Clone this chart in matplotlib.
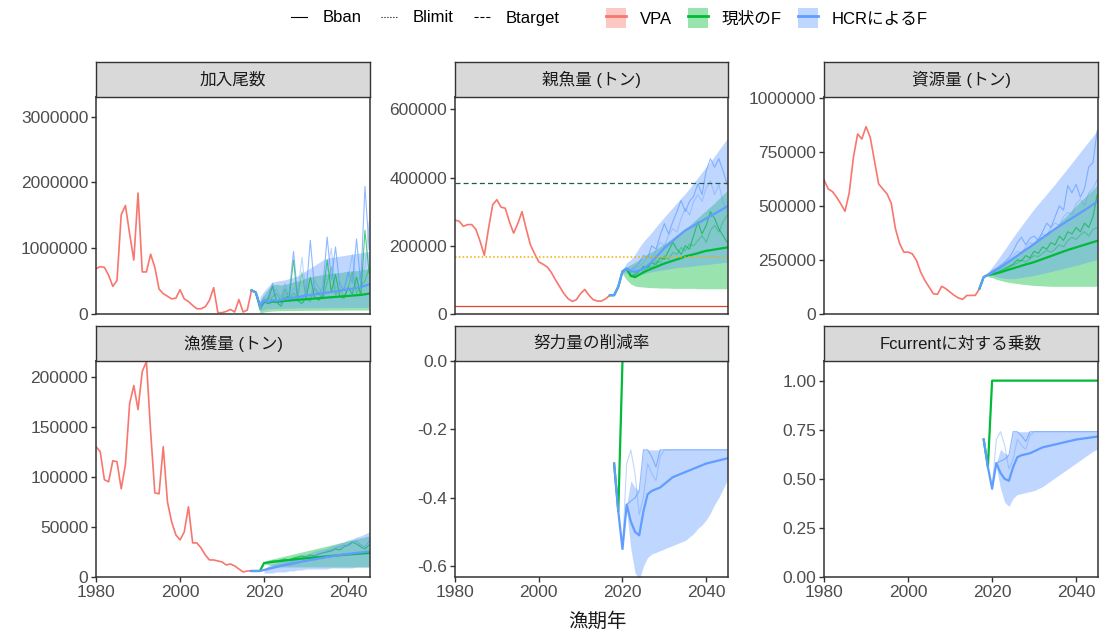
import matplotlib
matplotlib.use("Agg")
import matplotlib.pyplot as plt
from matplotlib.lines import Line2D
from matplotlib.patches import Patch
from matplotlib.ticker import FormatStrFormatter

plt.rcParams['font.family'] = ['Liberation Sans', 'Noto Sans CJK JP']

VPA_COL = '#F8766D'
CUR_COL = '#00BA38'
HCR_COL = '#619CFF'

# ---- years ----
vpa_years = list(range(1980, 2018))
proj_years = list(range(2017, 2046))
f_years = list(range(2018, 2046))

# ---- 加入尾数 ----
rec_vpa = [690e3, 720e3, 710e3, 590e3, 420e3, 510e3, 1510e3, 1650e3, 1220e3, 820e3,
           1840e3, 640e3, 640e3, 910e3, 710e3, 380e3, 310e3, 270e3, 230e3, 240e3,
           370e3, 230e3, 190e3, 130e3, 80e3, 80e3, 110e3, 210e3, 400e3, 20e3,
           20e3, 40e3, 70e3, 30e3, 220e3, 30e3, 60e3, 360e3]
rec_hcr = [360e3, 330e3, 130e3, 200e3, 180e3, 210e3, 200e3, 215e3, 225e3, 235e3,
           250e3, 255e3, 270e3, 280e3, 290e3, 300e3, 305e3, 315e3, 325e3, 335e3,
           345e3, 355e3, 365e3, 375e3, 385e3, 395e3, 410e3, 430e3, 450e3]
rec_cur = [360e3, 330e3, 130e3, 190e3, 170e3, 190e3, 185e3, 195e3, 200e3, 205e3,
           210e3, 215e3, 220e3, 225e3, 230e3, 235e3, 240e3, 245e3, 250e3, 255e3,
           260e3, 265e3, 270e3, 275e3, 280e3, 285e3, 290e3, 300e3, 310e3]
rec_band_years = list(range(2019, 2046))
rec_hcr_hi = [260e3, 350e3, 420e3, 480e3, 500e3, 510e3, 520e3, 540e3, 560e3, 580e3,
              620e3, 660e3, 700e3, 740e3, 780e3, 820e3, 850e3, 860e3, 870e3, 880e3,
              890e3, 900e3, 910e3, 920e3, 930e3, 940e3, 950e3]
rec_hcr_lo = [40e3, 70e3, 80e3, 80e3, 85e3, 85e3, 90e3, 90e3, 90e3, 92e3,
              92e3, 94e3, 94e3, 95e3, 95e3, 96e3, 96e3, 97e3, 97e3, 98e3,
              98e3, 99e3, 99e3, 100e3, 100e3, 100e3, 100e3]
rec_cur_hi = [200e3, 300e3, 380e3, 450e3, 450e3, 440e3, 450e3, 470e3, 490e3, 500e3,
              520e3, 550e3, 560e3, 580e3, 590e3, 600e3, 610e3, 620e3, 625e3, 630e3,
              640e3, 650e3, 655e3, 660e3, 670e3, 680e3, 690e3]
rec_cur_lo = [5e3, 30e3, 40e3, 45e3, 48e3, 50e3, 50e3, 52e3, 52e3, 54e3,
              54e3, 55e3, 55e3, 56e3, 56e3, 57e3, 57e3, 58e3, 58e3, 58e3,
              59e3, 59e3, 60e3, 60e3, 60e3, 60e3, 60e3]
rec_sim_years = list(range(2018, 2046))
rec_hcr_sims = [
    [330e3, 80e3, 180e3, 260e3, 470e3, 210e3, 160e3, 300e3, 330e3, 950e3,
     260e3, 220e3, 330e3, 1120e3, 380e3, 300e3, 420e3, 1170e3, 520e3, 1020e3,
     420e3, 380e3, 640e3, 470e3, 1140e3, 460e3, 1940e3, 980e3],
    [330e3, 150e3, 260e3, 200e3, 300e3, 380e3, 250e3, 470e3, 230e3, 400e3,
     320e3, 860e3, 300e3, 250e3, 520e3, 400e3, 300e3, 650e3, 1000e3, 380e3,
     500e3, 350e3, 550e3, 900e3, 420e3, 600e3, 700e3, 1400e3],
]
rec_cur_sims = [
    [330e3, 60e3, 170e3, 230e3, 420e3, 180e3, 120e3, 250e3, 270e3, 820e3,
     200e3, 160e3, 250e3, 560e3, 260e3, 210e3, 290e3, 820e3, 330e3, 600e3,
     270e3, 240e3, 400e3, 300e3, 560e3, 280e3, 1270e3, 620e3],
    [330e3, 120e3, 220e3, 170e3, 260e3, 310e3, 200e3, 380e3, 190e3, 320e3,
     250e3, 640e3, 230e3, 190e3, 400e3, 310e3, 230e3, 480e3, 720e3, 290e3,
     380e3, 260e3, 400e3, 640e3, 310e3, 440e3, 500e3, 700e3],
]

# ---- 親魚量 ----
ssb_vpa = [275e3, 272e3, 257e3, 262e3, 262e3, 248e3, 213e3, 172e3, 250e3, 320e3,
           335e3, 313e3, 310e3, 270e3, 237e3, 265e3, 300e3, 250e3, 203e3, 177e3,
           153e3, 146e3, 138e3, 122e3, 100e3, 80e3, 60e3, 45e3, 37e3, 42e3,
           60e3, 72e3, 55e3, 42e3, 38e3, 38e3, 45e3, 55e3]
ssb_hcr = [55e3, 55e3, 80e3, 125e3, 133e3, 125e3, 124e3, 128e3, 133e3, 142e3,
           153e3, 166e3, 180e3, 193e3, 204e3, 214e3, 225e3, 235e3, 245e3, 252e3,
           259e3, 266e3, 273e3, 280e3, 287e3, 294e3, 301e3, 308e3, 315e3]
ssb_cur = [55e3, 55e3, 80e3, 125e3, 133e3, 112e3, 108e3, 115e3, 122e3, 128e3,
           133e3, 138e3, 143e3, 148e3, 152e3, 156e3, 160e3, 164e3, 169e3, 172e3,
           175e3, 178e3, 182e3, 185e3, 187e3, 189e3, 191e3, 193e3, 195e3]
ssb_band_years = list(range(2020, 2046))
ssb_hcr_hi = [130e3, 150e3, 160e3, 175e3, 195e3, 212e3, 226e3, 240e3, 255e3, 270e3,
              284e3, 298e3, 312e3, 326e3, 340e3, 353e3, 368e3, 384e3, 400e3, 416e3,
              431e3, 447e3, 463e3, 480e3, 497e3, 514e3]
ssb_hcr_lo = [120e3, 120e3, 112e3, 112e3, 115e3, 118e3, 121e3, 124e3, 126e3, 128e3,
              130e3, 132e3, 134e3, 136e3, 137e3, 138e3, 139e3, 141e3, 142e3, 144e3,
              145e3, 146e3, 148e3, 149e3, 151e3, 152e3]
ssb_cur_hi = [128e3, 138e3, 145e3, 152e3, 160e3, 168e3, 177e3, 183e3, 190e3, 198e3,
              206e3, 214e3, 223e3, 232e3, 241e3, 250e3, 260e3, 271e3, 282e3, 293e3,
              304e3, 315e3, 326e3, 338e3, 350e3, 362e3]
ssb_cur_lo = [118e3, 100e3, 88e3, 82e3, 80e3, 79e3, 78e3, 77e3, 77e3, 76e3,
              76e3, 76e3, 75e3, 75e3, 75e3, 75e3, 75e3, 75e3, 74e3, 74e3,
              74e3, 74e3, 74e3, 74e3, 74e3, 74e3]
ssb_sim_years = list(range(2021, 2046))
ssb_hcr_sims = [
    [133e3, 130e3, 138e3, 150e3, 172e3, 165e3, 200e3, 190e3, 230e3, 265e3,
     235e3, 270e3, 300e3, 333e3, 300e3, 330e3, 345e3, 382e3, 350e3, 420e3,
     455e3, 430e3, 455e3, 420e3, 380e3],
    [133e3, 125e3, 132e3, 140e3, 150e3, 170e3, 160e3, 185e3, 210e3, 200e3,
     230e3, 250e3, 240e3, 280e3, 310e3, 290e3, 330e3, 350e3, 330e3, 370e3,
     390e3, 350e3, 380e3, 330e3, 300e3],
]
ssb_cur_sims = [
    [133e3, 110e3, 115e3, 125e3, 140e3, 135e3, 150e3, 145e3, 165e3, 160e3,
     185e3, 210e3, 190e3, 175e3, 200e3, 190e3, 230e3, 270e3, 235e3, 260e3,
     300e3, 280e3, 250e3, 230e3, 210e3],
    [133e3, 108e3, 120e3, 130e3, 125e3, 140e3, 135e3, 155e3, 150e3, 170e3,
     160e3, 180e3, 175e3, 195e3, 185e3, 205e3, 200e3, 215e3, 230e3, 210e3,
     245e3, 260e3, 240e3, 270e3, 290e3],
]
bban = 23500
blimit = 168000
btarget = 383000

# ---- 資源量 ----
bio_vpa = [620e3, 578e3, 566e3, 540e3, 509e3, 475e3, 560e3, 724e3, 832e3, 809e3,
           866e3, 817e3, 709e3, 601e3, 578e3, 555e3, 512e3, 394e3, 325e3, 286e3,
           286e3, 278e3, 248e3, 194e3, 155e3, 125e3, 94e3, 91e3, 128e3, 117e3,
           101e3, 86e3, 74e3, 68e3, 86e3, 86e3, 86e3, 117e3]
bio_hcr = [118e3, 171e3, 180e3, 190e3, 203e3, 215e3, 228e3, 242e3, 256e3, 270e3,
           284e3, 297e3, 310e3, 324e3, 338e3, 352e3, 366e3, 380e3, 393e3, 406e3,
           418e3, 431e3, 443e3, 455e3, 468e3, 480e3, 493e3, 506e3, 520e3]
bio_cur = [118e3, 171e3, 180e3, 183e3, 188e3, 193e3, 199e3, 205e3, 211e3, 217e3,
           223e3, 229e3, 234e3, 240e3, 247e3, 254e3, 261e3, 268e3, 275e3, 282e3,
           289e3, 296e3, 302e3, 308e3, 314e3, 320e3, 326e3, 332e3, 338e3]
bio_band_years = list(range(2019, 2046))
bio_hcr_hi = [190e3, 217e3, 243e3, 270e3, 298e3, 326e3, 355e3, 381e3, 408e3, 434e3,
              460e3, 486e3, 509e3, 532e3, 555e3, 578e3, 601e3, 626e3, 650e3, 675e3,
              699e3, 724e3, 749e3, 773e3, 798e3, 822e3, 847e3]
bio_hcr_lo = [175e3, 178e3, 172e3, 168e3, 165e3, 163e3, 163e3, 166e3, 169e3, 172e3,
              175e3, 178e3, 183e3, 187e3, 192e3, 196e3, 201e3, 206e3, 211e3, 215e3,
              220e3, 225e3, 230e3, 236e3, 241e3, 246e3, 251e3]
bio_cur_hi = [185e3, 205e3, 216e3, 228e3, 239e3, 251e3, 263e3, 277e3, 291e3, 304e3,
              318e3, 332e3, 346e3, 360e3, 373e3, 387e3, 401e3, 421e3, 441e3, 461e3,
              481e3, 501e3, 520e3, 539e3, 557e3, 576e3, 594e3]
bio_cur_lo = [172e3, 168e3, 160e3, 155e3, 150e3, 146e3, 143e3, 141e3, 138e3, 136e3,
              134e3, 132e3, 131e3, 130e3, 129e3, 128e3, 128e3, 128e3, 128e3, 128e3,
              128e3, 128e3, 128e3, 128e3, 128e3, 128e3, 128e3]
bio_sim_years = list(range(2019, 2046))
bio_hcr_sims = [
    [185e3, 200e3, 210e3, 225e3, 240e3, 260e3, 290e3, 330e3, 355e3, 320e3,
     350e3, 360e3, 340e3, 380e3, 420e3, 400e3, 450e3, 500e3, 480e3, 594e3,
     560e3, 600e3, 540e3, 580e3, 680e3, 700e3, 847e3],
    [185e3, 195e3, 205e3, 215e3, 235e3, 250e3, 270e3, 290e3, 280e3, 310e3,
     330e3, 320e3, 350e3, 370e3, 360e3, 400e3, 420e3, 410e3, 450e3, 470e3,
     460e3, 510e3, 530e3, 500e3, 560e3, 580e3, 620e3],
]
bio_cur_sims = [
    [180e3, 185e3, 190e3, 200e3, 210e3, 220e3, 230e3, 250e3, 245e3, 270e3,
     260e3, 290e3, 280e3, 310e3, 300e3, 330e3, 320e3, 360e3, 340e3, 380e3,
     370e3, 400e3, 380e3, 420e3, 400e3, 450e3, 550e3],
    [180e3, 183e3, 185e3, 195e3, 205e3, 215e3, 225e3, 235e3, 250e3, 240e3,
     255e3, 270e3, 265e3, 280e3, 295e3, 285e3, 300e3, 320e3, 310e3, 340e3,
     355e3, 345e3, 365e3, 380e3, 360e3, 390e3, 400e3],
]

# ---- 漁獲量 ----
catch_vpa = [130e3, 125e3, 97e3, 95e3, 116e3, 115e3, 88e3, 112e3, 173e3, 191e3,
             167e3, 205e3, 215e3, 145e3, 84e3, 83e3, 130e3, 75e3, 55e3, 42e3,
             37e3, 45e3, 70e3, 34e3, 34e3, 29e3, 22e3, 17e3, 17e3, 16e3,
             15e3, 12e3, 13e3, 11e3, 8e3, 5e3, 6e3, 6e3]
catch_hcr = [6e3, 6e3, 6e3, 7e3, 8e3, 9e3, 10e3, 11e3, 12e3, 12.5e3,
             13.5e3, 14.5e3, 15.5e3, 16e3, 17e3, 17.5e3, 18.5e3, 19e3, 20e3, 20.5e3,
             21.5e3, 22e3, 22.5e3, 23e3, 23.5e3, 24e3, 24.5e3, 25e3, 25.5e3]
catch_cur = [6e3, 6e3, 6e3, 14e3, 14.5e3, 15e3, 15.5e3, 16e3, 16.5e3, 17e3,
             17.5e3, 18e3, 18.3e3, 18.7e3, 19e3, 19.4e3, 19.8e3, 20.2e3, 20.6e3, 21e3,
             21.4e3, 21.8e3, 22.1e3, 22.5e3, 22.8e3, 23.1e3, 23.4e3, 23.7e3, 24e3]
catch_band_years = list(range(2020, 2046))
catch_hcr_hi = [8e3, 11e3, 13e3, 14e3, 16e3, 17e3, 18e3, 19e3, 21e3, 22e3,
                23e3, 24e3, 26e3, 27e3, 28e3, 29e3, 31e3, 32e3, 34e3, 35e3,
                37e3, 38e3, 40e3, 41e3, 43e3, 45e3]
catch_hcr_lo = [4e3, 4e3, 4e3, 5e3, 5e3, 5e3, 6e3, 6e3, 7e3, 7e3,
                8e3, 8e3, 8e3, 8e3, 8e3, 8e3, 9e3, 9e3, 9e3, 9e3,
                9e3, 9e3, 10e3, 10e3, 10e3, 10e3]
catch_cur_hi = [15e3, 17e3, 18e3, 19e3, 20e3, 21e3, 22e3, 23e3, 24e3, 25e3,
                26e3, 27e3, 28e3, 29e3, 30e3, 31e3, 32e3, 33e3, 34e3, 35e3,
                36e3, 37e3, 38e3, 39e3, 40e3, 41e3]
catch_cur_lo = [13e3, 12e3, 11e3, 10e3, 10e3, 10e3, 10e3, 10e3, 10e3, 10e3,
                10e3, 10e3, 10e3, 10e3, 10e3, 10e3, 10e3, 10e3, 10e3, 10e3,
                10e3, 10e3, 10e3, 10e3, 10e3, 10e3]
catch_sim_years = list(range(2020, 2046))
catch_hcr_sims = [
    [7e3, 9e3, 10e3, 11e3, 12e3, 13e3, 14e3, 16e3, 17e3, 19e3,
     20e3, 21e3, 20e3, 23e3, 24e3, 26e3, 27e3, 29e3, 30e3, 32e3,
     31e3, 34e3, 36e3, 32e3, 30e3, 36e3],
]
catch_cur_sims = [
    [14e3, 15e3, 16e3, 16e3, 17e3, 18e3, 17e3, 19e3, 20e3, 21e3,
     20e3, 22e3, 21e3, 23e3, 24e3, 25e3, 26e3, 28e3, 27e3, 30e3,
     32e3, 35e3, 33e3, 30e3, 28e3, 32e3],
]

# ---- 努力量の削減率 ----
eff_cur = [-0.30, -0.44, 0.0, 0.0, 0.0, 0.0, 0.0, 0.0, 0.0, 0.0,
           0.0, 0.0, 0.0, 0.0, 0.0, 0.0, 0.0, 0.0, 0.0, 0.0,
           0.0, 0.0, 0.0, 0.0, 0.0, 0.0, 0.0, 0.0]
eff_hcr = [-0.30, -0.44, -0.55, -0.42, -0.47, -0.50, -0.51, -0.44, -0.39, -0.38,
           -0.375, -0.37, -0.36, -0.35, -0.34, -0.335, -0.33, -0.325, -0.32, -0.315,
           -0.31, -0.305, -0.30, -0.297, -0.294, -0.291, -0.288, -0.285]
f_band_years = list(range(2021, 2046))
eff_hcr_hi = [-0.42, -0.35, -0.37, -0.38, -0.26, -0.26, -0.26, -0.26, -0.26, -0.26,
              -0.26, -0.26, -0.26, -0.26, -0.26, -0.26, -0.26, -0.26, -0.26, -0.26,
              -0.26, -0.26, -0.26, -0.26, -0.26]
eff_hcr_lo = [-0.44, -0.55, -0.62, -0.64, -0.60, -0.575, -0.565, -0.56, -0.555, -0.55,
              -0.545, -0.54, -0.535, -0.53, -0.525, -0.515, -0.505, -0.49, -0.48, -0.465,
              -0.445, -0.42, -0.40, -0.375, -0.35]
f_sim_years = list(range(2020, 2046))
eff_hcr_sims = [
    [-0.55, -0.42, -0.41, -0.40, -0.38, -0.26, -0.26, -0.28, -0.31, -0.26,
     -0.26, -0.26, -0.26, -0.26, -0.26, -0.26, -0.26, -0.26, -0.26, -0.26,
     -0.26, -0.26, -0.26, -0.26, -0.26, -0.26],
    [-0.55, -0.30, -0.26, -0.33, -0.45, -0.40, -0.30, -0.33, -0.35, -0.28,
     -0.26, -0.26, -0.26, -0.26, -0.26, -0.26, -0.26, -0.26, -0.26, -0.26,
     -0.26, -0.26, -0.26, -0.26, -0.26, -0.26],
]

# ---- Fcurrentに対する乗数 ----
fm_cur = [0.70, 0.56, 1.0, 1.0, 1.0, 1.0, 1.0, 1.0, 1.0, 1.0,
          1.0, 1.0, 1.0, 1.0, 1.0, 1.0, 1.0, 1.0, 1.0, 1.0,
          1.0, 1.0, 1.0, 1.0, 1.0, 1.0, 1.0, 1.0]
fm_hcr = [0.70, 0.56, 0.45, 0.58, 0.53, 0.50, 0.49, 0.56, 0.61, 0.62,
          0.625, 0.63, 0.64, 0.65, 0.66, 0.665, 0.67, 0.675, 0.68, 0.685,
          0.69, 0.695, 0.70, 0.703, 0.706, 0.709, 0.712, 0.715]
fm_hcr_hi = [0.58, 0.65, 0.63, 0.62, 0.74, 0.74, 0.74, 0.74, 0.74, 0.74,
             0.74, 0.74, 0.74, 0.74, 0.74, 0.74, 0.74, 0.74, 0.74, 0.74,
             0.74, 0.74, 0.74, 0.74, 0.74]
fm_hcr_lo = [0.56, 0.45, 0.38, 0.36, 0.40, 0.42, 0.425, 0.43, 0.435, 0.44,
             0.45, 0.46, 0.475, 0.49, 0.505, 0.52, 0.535, 0.55, 0.565, 0.58,
             0.595, 0.61, 0.625, 0.64, 0.65]
fm_hcr_sims = [
    [0.45, 0.58, 0.59, 0.60, 0.62, 0.74, 0.74, 0.72, 0.69, 0.74,
     0.74, 0.74, 0.74, 0.74, 0.74, 0.74, 0.74, 0.74, 0.74, 0.74,
     0.74, 0.74, 0.74, 0.74, 0.74, 0.74],
    [0.45, 0.70, 0.74, 0.67, 0.55, 0.60, 0.70, 0.67, 0.65, 0.72,
     0.74, 0.74, 0.74, 0.74, 0.74, 0.74, 0.74, 0.74, 0.74, 0.74,
     0.74, 0.74, 0.74, 0.74, 0.74, 0.74],
]

# ---- figure layout (pixel boxes) ----
W, H = 1105, 633
col_px = [(96, 370), (455, 728), (824, 1098)]
row_px = [(97, 314), (361, 577)]
STRIP_H = 35

fig = plt.figure(figsize=(W / 100, H / 100), dpi=100)


def px_box(x0, x1, ytop, ybot):
    return [x0 / W, 1 - ybot / H, (x1 - x0) / W, (ybot - ytop) / H]


def make_panel(r, c, title):
    x0, x1 = col_px[c]
    ytop, ybot = row_px[r]
    ax = fig.add_axes(px_box(x0, x1, ytop, ybot))
    st = fig.add_axes(px_box(x0, x1, ytop - STRIP_H, ytop))
    st.set_facecolor('#D9D9D9')
    st.set_xticks([])
    st.set_yticks([])
    for s in st.spines.values():
        s.set_color('#333333')
        s.set_linewidth(1.0)
    st.text(0.5, 0.5, title, ha='center', va='center', fontsize=12, color='#1A1A1A',
            transform=st.transAxes)
    for s in ax.spines.values():
        s.set_color('#333333')
        s.set_linewidth(1.1)
    ax.set_xlim(1980, 2045.2)
    ax.set_xticks([1980, 2000, 2020, 2040])
    ax.tick_params(direction='out', length=3.5, width=1.0, color='#333333',
                   labelcolor='#4D4D4D', labelsize=12.5, pad=2)
    if r == 0:
        ax.tick_params(axis='x', bottom=False, labelbottom=False)
    return ax


def draw_bands(ax, yrs, cur_lo, cur_hi, hcr_lo, hcr_hi):
    if cur_lo is not None:
        ax.fill_between(yrs, cur_lo, cur_hi, color=CUR_COL, alpha=0.4, lw=0)
    ax.fill_between(yrs, hcr_lo, hcr_hi, color=HCR_COL, alpha=0.4, lw=0)


def draw_sims(ax, yrs, cur_sims, hcr_sims):
    for i, s in enumerate(cur_sims):
        ax.plot(yrs, s, color=CUR_COL, lw=0.8, alpha=0.7 - 0.3 * i)
    for i, s in enumerate(hcr_sims):
        ax.plot(yrs, s, color=HCR_COL, lw=0.8, alpha=0.7 - 0.3 * i)


int_fmt = FormatStrFormatter('%d')

# 加入尾数
ax = make_panel(0, 0, '加入尾数')
draw_bands(ax, rec_band_years, rec_cur_lo, rec_cur_hi, rec_hcr_lo, rec_hcr_hi)
draw_sims(ax, rec_sim_years, rec_cur_sims, rec_hcr_sims)
ax.plot(vpa_years, rec_vpa, color=VPA_COL, lw=1.2)
ax.plot(proj_years, rec_cur, color=CUR_COL, lw=1.6)
ax.plot(proj_years, rec_hcr, color=HCR_COL, lw=1.6)
ax.set_ylim(0, 3.30e6)
ax.set_yticks([0, 1e6, 2e6, 3e6])
ax.yaxis.set_major_formatter(int_fmt)

# 親魚量
ax = make_panel(0, 1, '親魚量 (トン)')
draw_bands(ax, ssb_band_years, ssb_cur_lo, ssb_cur_hi, ssb_hcr_lo, ssb_hcr_hi)
draw_sims(ax, ssb_sim_years, ssb_cur_sims, ssb_hcr_sims)
ax.plot(vpa_years, ssb_vpa, color=VPA_COL, lw=1.2)
ax.plot(proj_years, ssb_cur, color=CUR_COL, lw=1.6)
ax.plot(proj_years, ssb_hcr, color=HCR_COL, lw=1.6)
ax.axhline(bban, color='#E0452F', lw=0.9)
ax.axhline(blimit, color='#F0B000', lw=1.1, ls=(0, (1, 1.5)))
ax.axhline(btarget, color='#1B5E4E', lw=0.9, ls=(0, (4, 2.5)))
ax.set_ylim(0, 636000)
ax.set_yticks([0, 200000, 400000, 600000])
ax.yaxis.set_major_formatter(int_fmt)

# 資源量
ax = make_panel(0, 2, '資源量 (トン)')
draw_bands(ax, bio_band_years, bio_cur_lo, bio_cur_hi, bio_hcr_lo, bio_hcr_hi)
draw_sims(ax, bio_sim_years, bio_cur_sims, bio_hcr_sims)
ax.plot(vpa_years, bio_vpa, color=VPA_COL, lw=1.2)
ax.plot(proj_years, bio_cur, color=CUR_COL, lw=1.6)
ax.plot(proj_years, bio_hcr, color=HCR_COL, lw=1.6)
ax.set_ylim(0, 1.003e6)
ax.set_yticks([0, 250000, 500000, 750000, 1000000])
ax.yaxis.set_major_formatter(int_fmt)

# 漁獲量
ax = make_panel(1, 0, '漁獲量 (トン)')
draw_bands(ax, catch_band_years, catch_cur_lo, catch_cur_hi, catch_hcr_lo, catch_hcr_hi)
draw_sims(ax, catch_sim_years, catch_cur_sims, catch_hcr_sims)
ax.plot(vpa_years, catch_vpa, color=VPA_COL, lw=1.2)
ax.plot(proj_years, catch_cur, color=CUR_COL, lw=1.6)
ax.plot(proj_years, catch_hcr, color=HCR_COL, lw=1.6)
ax.set_ylim(0, 215500)
ax.set_yticks([0, 50000, 100000, 150000, 200000])
ax.yaxis.set_major_formatter(int_fmt)

# 努力量の削減率
ax = make_panel(1, 1, '努力量の削減率')
draw_bands(ax, f_band_years, None, None, eff_hcr_lo, eff_hcr_hi)
draw_sims(ax, f_sim_years, [], eff_hcr_sims)
ax.plot(f_years, eff_cur, color=CUR_COL, lw=1.6, clip_on=True)
ax.plot(f_years, eff_hcr, color=HCR_COL, lw=1.6)
ax.set_ylim(-0.632, 0.0)
ax.set_yticks([-0.6, -0.4, -0.2, 0.0])
ax.yaxis.set_major_formatter(FormatStrFormatter('%.1f'))

# Fcurrentに対する乗数
ax = make_panel(1, 2, 'Fcurrentに対する乗数')
draw_bands(ax, f_band_years, None, None, fm_hcr_lo, fm_hcr_hi)
draw_sims(ax, f_sim_years, [], fm_hcr_sims)
ax.plot(f_years, fm_cur, color=CUR_COL, lw=1.6)
ax.plot(f_years, fm_hcr, color=HCR_COL, lw=1.6)
ax.set_ylim(0, 1.10)
ax.set_yticks([0, 0.25, 0.5, 0.75, 1.0])
ax.yaxis.set_major_formatter(FormatStrFormatter('%.2f'))

fig.text(597 / W, 1 - 622 / H, '漁期年', ha='center', va='center', fontsize=14,
         color='#1A1A1A')

# legends across the top
ref_handles = [Line2D([], [], color='black', lw=0.8, ls=ls) for ls in ['-', ':', '--']]
fig.legend(ref_handles, ['Bban', 'Blimit', 'Btarget'], loc='center',
           bbox_to_anchor=(425 / W, 1 - 18 / H), ncol=3, frameon=False, fontsize=12,
           handlelength=1.0, handletextpad=0.9, columnspacing=1.2)
fill_handles = [(Patch(facecolor=c, alpha=0.4, edgecolor='none'), Line2D([], [], color=c, lw=2))
                for c in [VPA_COL, CUR_COL, HCR_COL]]
fig.legend(fill_handles, ['VPA', '現状のF', 'HCRによるF'], loc='center',
           bbox_to_anchor=(767 / W, 1 - 18 / H), ncol=3, frameon=False, fontsize=12,
           handlelength=1.2, handleheight=1.4, handletextpad=0.8, columnspacing=1.0)

fig.savefig('out.png', dpi=100)
